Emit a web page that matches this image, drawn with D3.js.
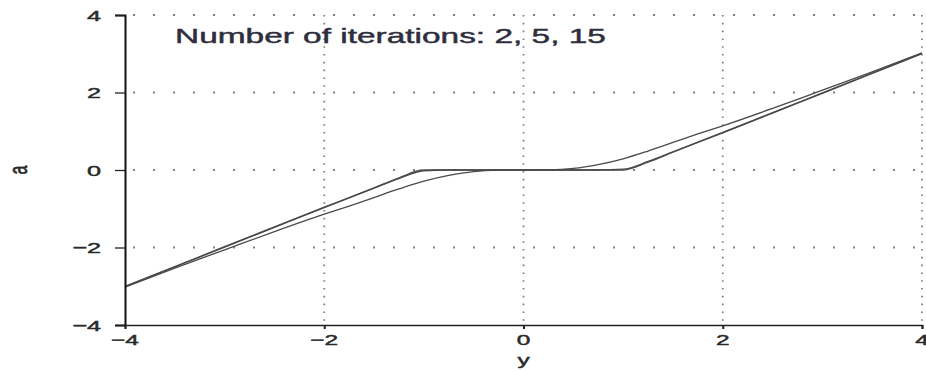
<!DOCTYPE html>
<html>
<head>
<meta charset="utf-8">
<script src="https://cdn.jsdelivr.net/npm/d3@7"></script>
<style>
  html, body { margin: 0; padding: 0; background: #fff; }
  svg { display: block; }
  text { font-family: "Liberation Sans", Arial, Helvetica, sans-serif; }
</style>
</head>
<body>
<svg id="chart" width="926" height="371"></svg>
<script>
// Input grid y and the estimate a after a given number of iterations
const yGrid   = [-4, -3.5, -3, -2.5, -2, -1.75, -1.5, -1.25, -1, -0.75, -0.5, -0.25, 0,
                 0.25, 0.5, 0.75, 1, 1.25, 1.5, 1.75, 2, 2.5, 3, 3.5, 4];
const iter2   = [-3.02, -2.53, -2.06, -1.59, -1.14, -0.93, -0.71, -0.49, -0.29, -0.14, -0.04, -0.005, 0,
                 0.005, 0.04, 0.14, 0.29, 0.49, 0.71, 0.93, 1.14, 1.59, 2.06, 2.53, 3.02];
const iter5   = [-3.01, -2.5, -1.99, -1.48, -0.97, -0.72, -0.47, -0.22, -0.02, 0, 0, 0, 0,
                 0, 0, 0, 0.02, 0.22, 0.47, 0.72, 0.97, 1.48, 1.99, 2.5, 3.01];
const iter15  = [-3.0, -2.49, -1.98, -1.47, -0.96, -0.71, -0.46, -0.2, 0, 0, 0, 0, 0,
                 0, 0, 0, 0, 0.2, 0.46, 0.71, 0.96, 1.47, 1.98, 2.49, 3.0];
const seriesList = [iter2, iter5, iter15];

const xTicks = [-4, -2, 0, 2, 4];
const yTicks = [-4, -2, 0, 2, 4];
const xGridVals = [-2, 0, 2, 4];
const yGridVals = [-2, 0, 2, 4];
const titleText = "Number of iterations: 2, 5, 15";
const xLabel = "y";
const yLabel = "a";

// Text in this figure is drawn wide; stretch glyphs horizontally
const SX = 1.63;

const svg = d3.select("#chart");
const x = d3.scaleLinear().domain([-4, 4]).range([125, 922]);
const y = d3.scaleLinear().domain([-4, 4]).range([325, 15]);

// dotted grid
svg.append("g").selectAll("line").data(yGridVals).join("line")
  .attr("x1", x(-4) + 8).attr("x2", x(4))
  .attr("y1", d => y(d)).attr("y2", d => y(d))
  .attr("stroke", "#808080").attr("stroke-width", 2)
  .attr("stroke-dasharray", "2,18");
svg.append("g").selectAll("line").data(xGridVals).join("line")
  .attr("x1", d => x(d)).attr("x2", d => x(d))
  .attr("y1", y(4)).attr("y2", y(-4))
  .attr("stroke", "#808080").attr("stroke-width", 1.8)
  .attr("stroke-dasharray", "1.6,6.2");

// curves
const line = d3.line()
  .x((d, i) => x(yGrid[i]))
  .y(d => y(d))
  .curve(d3.curveMonotoneX);
svg.append("g").selectAll("path").data(seriesList).join("path")
  .attr("d", line)
  .attr("fill", "none")
  .attr("stroke", "#4a4a4a")
  .attr("stroke-width", 1.3);

// axes
const yAxis = d3.axisLeft(y).tickValues(yTicks).tickSize(10).tickFormat(d3.format("d"));
const gy = svg.append("g").attr("transform", `translate(${x(-4)},0)`).call(yAxis);
gy.select(".domain").attr("stroke", "#111").attr("stroke-width", 2);
gy.selectAll(".tick line").attr("stroke", "#222").attr("stroke-width", 1.3);
gy.selectAll(".tick text").remove();

const xAxis = d3.axisBottom(x).tickValues(xTicks).tickSize(4).tickFormat(d3.format("d"));
const gx = svg.append("g").attr("transform", `translate(0,${y(-4)})`).call(xAxis);
gx.select(".domain").attr("stroke", "#222").attr("stroke-width", 1.6);
gx.selectAll(".tick line").attr("stroke", "#222").attr("stroke-width", 2);
gx.selectAll(".tick text").remove();

// a light outline gives the labels their heavier print weight
const heavy = sel => sel.attr("stroke", "currentColor").attr("stroke-width", 0.45)
  .attr("paint-order", "stroke");

// tick labels, stretched horizontally
const fmt = d => d < 0 ? "\u2212" + Math.abs(d) : String(d);
svg.append("g").attr("color", "#2a2a2a").selectAll("text").data(yTicks).join("text")
  .attr("transform", d => `translate(101,${y(d) + 5.5}) scale(${SX},1)`)
  .attr("text-anchor", "end")
  .attr("font-size", 15.5)
  .attr("fill", "currentColor")
  .call(heavy)
  .text(fmt);
svg.append("g").attr("color", "#2a2a2a").selectAll("text").data(xTicks).join("text")
  .attr("transform", d => `translate(${x(d)},${y(-4) + 20}) scale(${SX},1)`)
  .attr("text-anchor", "middle")
  .attr("font-size", 15)
  .attr("fill", "currentColor")
  .call(heavy)
  .text(fmt);

// axis titles
svg.append("text")
  .attr("color", "#2a2a2a")
  .attr("transform", `translate(${x(0)},${365}) scale(${SX},1)`)
  .attr("text-anchor", "middle")
  .attr("font-size", 15)
  .attr("fill", "currentColor")
  .call(heavy)
  .text(xLabel);
svg.append("text")
  .attr("color", "#2a2a2a")
  .attr("transform", `translate(27,${y(0)}) scale(${SX},1) rotate(-90)`)
  .attr("text-anchor", "middle")
  .attr("font-size", 16)
  .attr("fill", "currentColor")
  .call(heavy)
  .text(yLabel);

// annotation
svg.append("text")
  .attr("color", "#2e2e3e")
  .attr("transform", `translate(175,43) scale(${SX},1)`)
  .attr("font-size", 20.5)
  .attr("fill", "currentColor")
  .call(heavy)
  .text(titleText);
</script>
</body>
</html>
